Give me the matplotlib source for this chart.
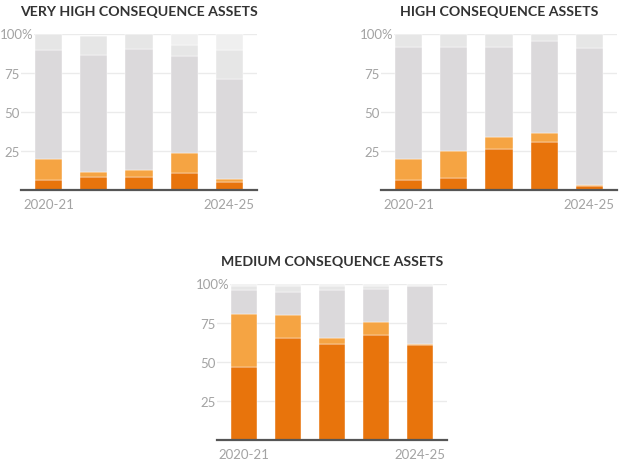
import numpy as np
import matplotlib
matplotlib.use('Agg')
import matplotlib.pyplot as plt

plt.rcParams['font.family'] = ['Lato', 'DejaVu Sans']

years = ['2020-21', '2021-22', '2022-23', '2023-24', '2024-25']

# share of assets (%) per band, bottom to top
very_high_dark = [6.4, 8.1, 8.1, 10.7, 5.1]
very_high_orange = [13.3, 3.7, 4.7, 13.2, 2.0]
very_high_grey = [70.2, 75.0, 77.6, 62.2, 64.3]
very_high_light = [10.1, 12.1, 9.6, 7.1, 18.5]
very_high_lightest = [0.0, 0.0, 0.0, 6.8, 10.1]

high_dark = [6.6, 7.5, 26.5, 30.6, 2.6]
high_orange = [13.3, 17.3, 7.3, 5.9, 0.6]
high_grey = [72.0, 67.1, 58.1, 59.2, 87.6]
high_light = [8.1, 8.1, 8.1, 4.3, 9.2]
high_lightest = [0.0, 0.0, 0.0, 0.0, 0.0]

medium_dark = [46.9, 65.3, 61.7, 67.5, 61.2]
medium_orange = [34.1, 14.8, 3.4, 8.1, 0.5]
medium_grey = [15.0, 14.8, 30.9, 21.4, 37.3]
medium_light = [3.0, 4.1, 3.0, 2.0, 0.0]
medium_lightest = [1.0, 1.0, 1.0, 1.0, 1.0]

colors = ['#e8740c', '#f5a443', '#dbd9db', '#e6e6e6', '#efefef']

panels = [
    ('VERY HIGH CONSEQUENCE ASSETS', [21, 191, 236, 156],
     [very_high_dark, very_high_orange, very_high_grey, very_high_light, very_high_lightest]),
    ('HIGH CONSEQUENCE ASSETS', [381, 191, 236, 156],
     [high_dark, high_orange, high_grey, high_light, high_lightest]),
    ('MEDIUM CONSEQUENCE ASSETS', [217, 441, 230, 156],
     [medium_dark, medium_orange, medium_grey, medium_light, medium_lightest]),
]

W, H = 620, 460
fig = plt.figure(figsize=(6.2, 4.6), dpi=100)

for title, (px, py, pw, ph), series in panels:
    ax = fig.add_axes([px / W, (H - py) / H, pw / W, ph / H])
    x = np.arange(len(years))
    bottom = np.zeros(len(years))
    for vals, c in zip(series, colors):
        ax.bar(x, vals, bottom=bottom, width=0.6, color=c,
               edgecolor='white', linewidth=0.3, zorder=2)
        bottom += np.array(vals)

    ax.set_xlim(-0.61, 4.61)
    ax.set_ylim(0, 100)
    for g in [25, 50, 75, 100]:
        ax.axhline(g, color='#ebebeb', lw=1, zorder=0)
    ax.axhline(0, color='#555555', lw=1.6, zorder=3, clip_on=False)

    for s in ax.spines.values():
        s.set_visible(False)

    ax.set_yticks([25, 50, 75, 100])
    ax.set_yticklabels(['25', '50', '75', ''])
    ax.tick_params(axis='y', length=0, pad=1, labelsize=9.5, labelcolor='#a3a3a3')
    ax.text(-21.5 / pw, 1, '100%', transform=ax.transAxes, ha='left', va='center',
            fontsize=9.5, color='#a3a3a3', zorder=4,
            bbox=dict(facecolor='white', edgecolor='none', pad=0.3))

    ax.set_xticks([0, 4])
    ax.set_xticklabels([years[0], years[-1]])
    ax.tick_params(axis='x', length=0, pad=6, labelsize=9.5, labelcolor='#a3a3a3')

    ax.set_title(title, fontsize=10.2, fontweight='bold', color='#333333', pad=14)

plt.savefig('out.png', dpi=100)
